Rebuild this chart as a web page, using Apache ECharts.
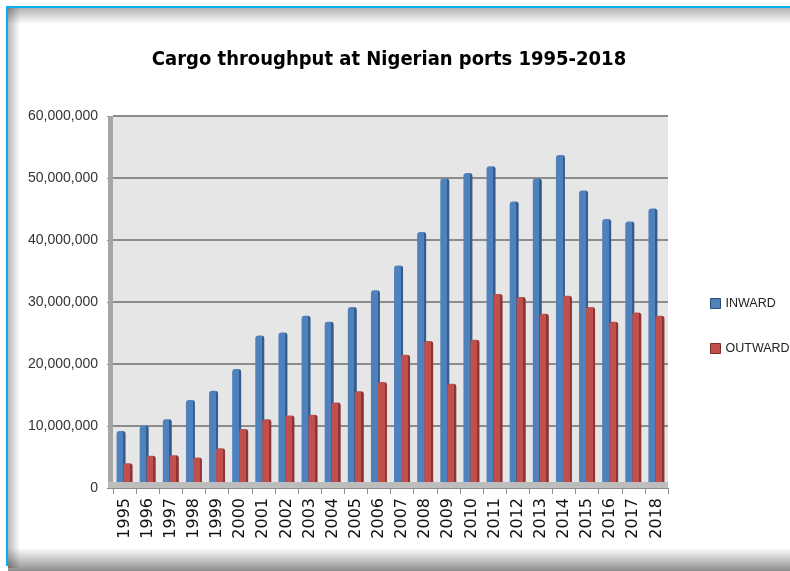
<!DOCTYPE html>
<html>
<head>
<meta charset="utf-8">
<script src="https://cdn.jsdelivr.net/npm/echarts@6/dist/echarts.min.js"></script>
<style>html,body{margin:0;padding:0;background:#fff;}#c{width:790px;height:571px;}</style>
</head>
<body>
<div id="c"></div>
<script>
const years = ['1995','1996','1997','1998','1999','2000','2001','2002','2003','2004','2005','2006','2007','2008','2009','2010','2011','2012','2013','2014','2015','2016','2017','2018'];
const inward = [9200000,10100000,11100000,14200000,15700000,19200000,24600000,25100000,27800000,26800000,29200000,31900000,35900000,41300000,49900000,50800000,51900000,46200000,49900000,53700000,48000000,43400000,43000000,45100000];
const outward = [4000000,5200000,5300000,4900000,6400000,9500000,11100000,11700000,11800000,13800000,15600000,17100000,21500000,23700000,16800000,23900000,31300000,30800000,28100000,31000000,29200000,26800000,28300000,27800000];
const yTicks = {min: 0, max: 60000000, interval: 10000000};

function face(main, side) {
  return {type:'linear',x:0,y:0,x2:1,y2:0,colorStops:[
    {offset:0,color:main},{offset:0.74,color:main},{offset:0.74,color:side},{offset:1,color:side}]};
}
const chart = echarts.init(document.getElementById('c'), null, {renderer:'canvas'});
chart.setOption({
  backgroundColor:'#fff',
  animation:false,
  title:{text:'Cargo throughput at Nigerian ports 1995-2018',left:384,top:45,textAlign:'center',
    textStyle:{fontFamily:'DejaVu Sans Condensed',fontWeight:'bold',fontSize:20,color:'#000'}},
  legend:{orient:'vertical',left:705,top:292,itemWidth:10,itemHeight:10,itemGap:32,icon:'rect',
    textStyle:{fontFamily:'Liberation Sans, Arial',fontSize:12.5,color:'#222'},
    data:[{name:'INWARD',itemStyle:{color:'#4f81bd',borderColor:'#2c4d75',borderWidth:1}},
          {name:'OUTWARD',itemStyle:{color:'#c0504d',borderColor:'#7f2b28',borderWidth:1}}]},
  grid:{left:113,right:122,top:116,bottom:83,show:true,backgroundColor:'#e6e6e6',borderWidth:0},
  graphic:[
    {type:'rect',shape:{x:6,y:6,width:790,height:2},style:{fill:'#00b0f0'},z:100},
    {type:'rect',shape:{x:6,y:6,width:2,height:560},style:{fill:'#00b0f0'},z:100},
    {type:'rect',shape:{x:8,y:8,width:782,height:16},style:{fill:{type:'linear',x:0,y:0,x2:0,y2:1,colorStops:[{offset:0,color:'rgba(0,0,0,0.3)'},{offset:1,color:'rgba(0,0,0,0)'}]}},z:90},
    {type:'rect',shape:{x:8,y:8,width:12,height:560},style:{fill:{type:'linear',x:0,y:0,x2:1,y2:0,colorStops:[{offset:0,color:'rgba(0,0,0,0.28)'},{offset:1,color:'rgba(0,0,0,0)'}]}},z:90},
    {type:'rect',shape:{x:8,y:548,width:782,height:23},style:{fill:{type:'linear',x:0,y:0,x2:0,y2:1,colorStops:[{offset:0,color:'rgba(0,0,0,0)'},{offset:1,color:'rgba(0,0,0,0.45)'}]}},z:90},
    {type:'rect',shape:{x:108,y:116,width:5,height:372},style:{fill:'#a6a6a6'},z:5},
    {type:'rect',shape:{x:108,y:482,width:560,height:6},style:{fill:'#bdbdbd'},z:5}
  ],
  xAxis:{type:'category',data:years,
    axisLine:{lineStyle:{color:'#8c8c8c',width:1}},
    axisTick:{show:true,length:6,lineStyle:{color:'#8c8c8c'}},
    axisLabel:{rotate:90,margin:10,fontFamily:'DejaVu Sans',fontSize:16,color:'#111'}},
  yAxis:{type:'value',min:yTicks.min,max:yTicks.max,interval:yTicks.interval,
    axisLine:{show:false},
    axisTick:{show:true,length:6,lineStyle:{color:'#8c8c8c'}},
    axisLabel:{margin:15,fontFamily:'Liberation Sans, Arial',fontSize:14,color:'#333'},
    splitLine:{lineStyle:{color:'#8c8c8c',width:2}}},
  series:[
    {name:'INWARD',type:'bar',data:inward,barWidth:9,barGap:'-22%',z:3,
      itemStyle:{color:face('#4f81bd','#345d8e'),borderRadius:[3,3,0,0]}},
    {name:'OUTWARD',type:'bar',data:outward,barWidth:9,z:4,
      itemStyle:{color:face('#c0504d','#8e3533'),borderRadius:[3,3,0,0]}}
  ]
});
</script>
</body>
</html>
